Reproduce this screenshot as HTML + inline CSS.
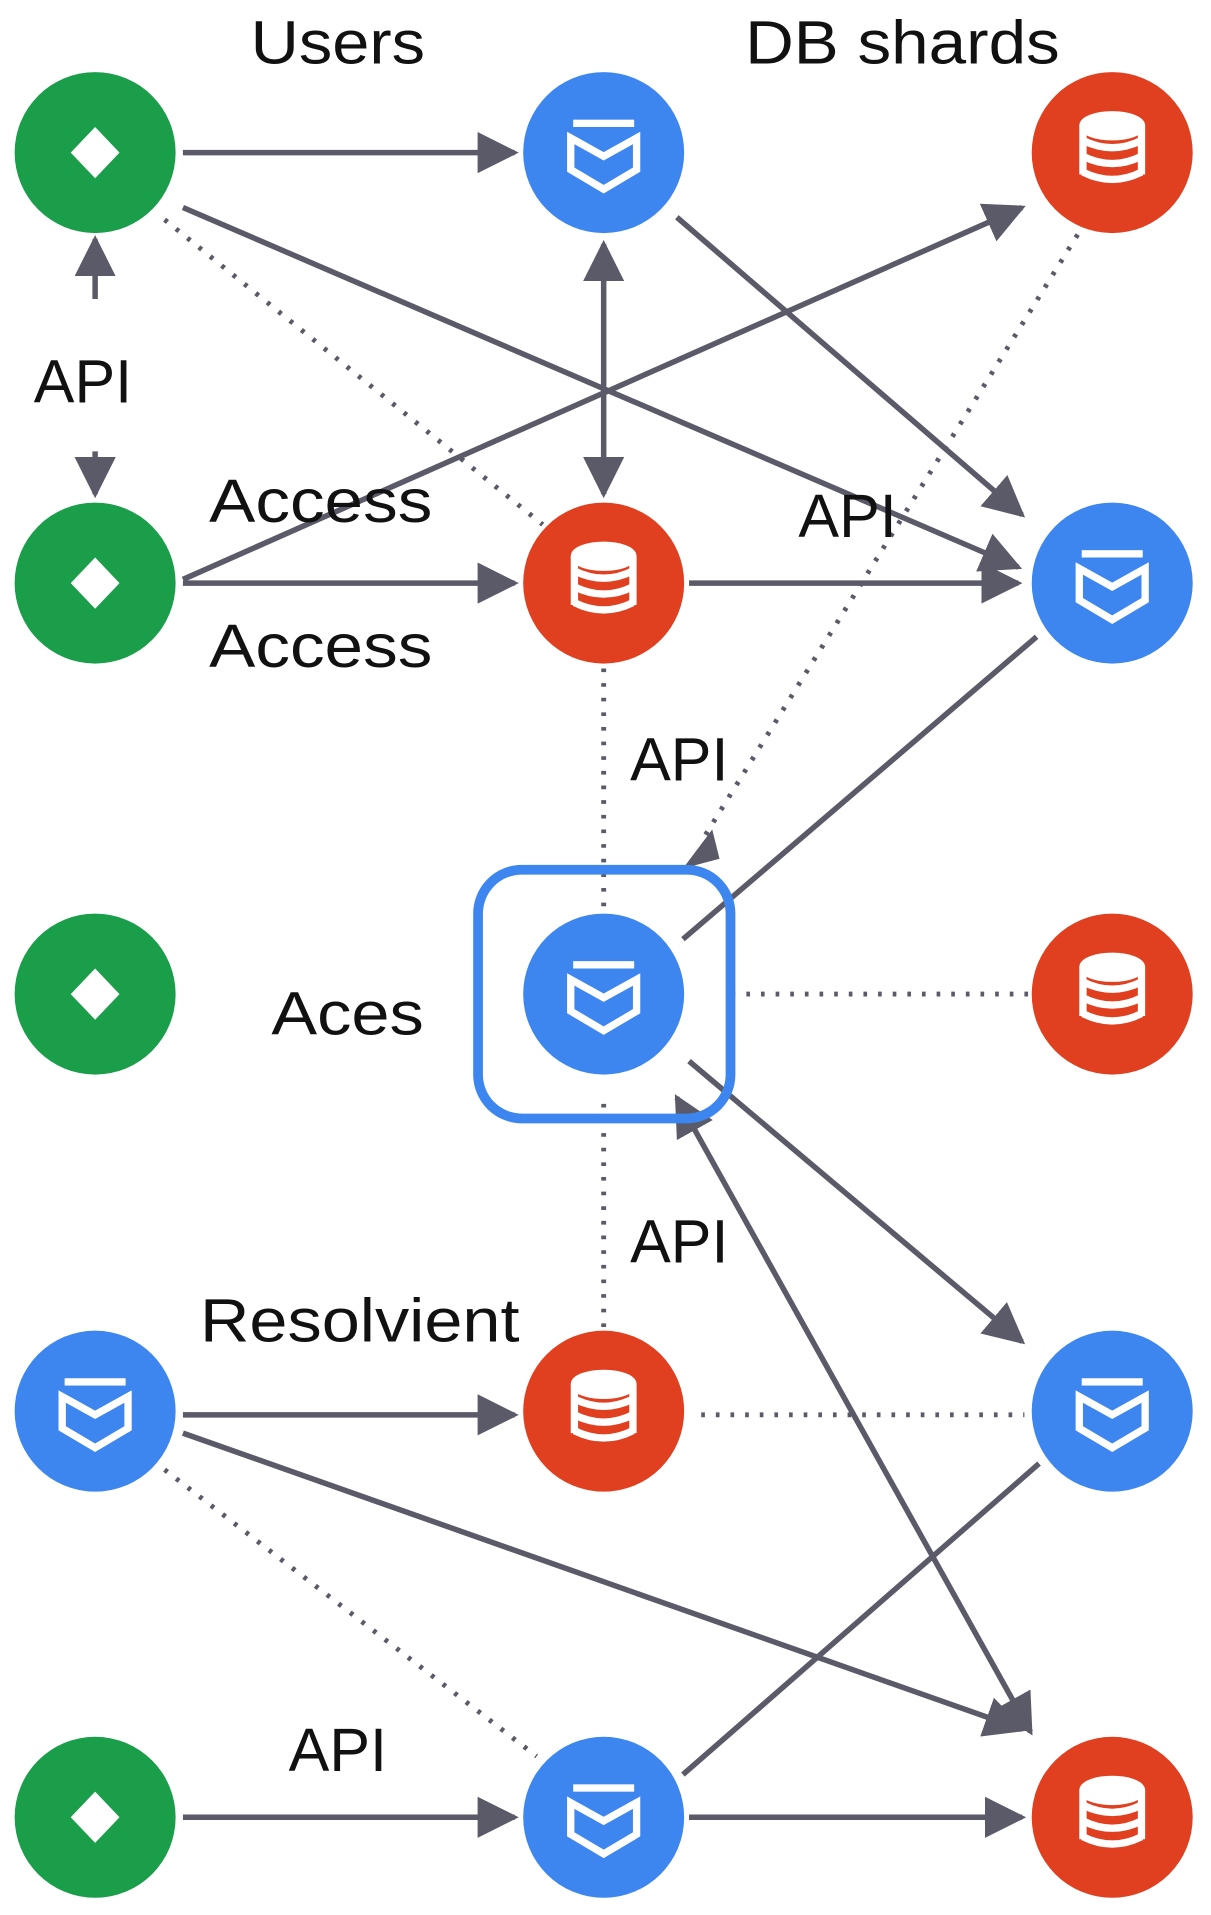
<!DOCTYPE html>
<html><head><meta charset="utf-8"><style>
html,body{margin:0;padding:0;background:#fff;}
svg{display:block;}
text{font-family:"Liberation Sans",sans-serif;fill:#111;}
</style></head><body>
<svg width="1211" height="1915" viewBox="0 0 993 1570" xmlns="http://www.w3.org/2000/svg">
<defs>
<marker id="a" viewBox="0 0 10 10" refX="9" refY="5" markerWidth="7.5" markerHeight="7.5" markerUnits="strokeWidth" orient="auto-start-reverse">
<path d="M0,0 L10,5 L0,10 Z" fill="#5a5a68"/></marker>
<g id="G"><circle r="66" fill="#1a9e4a"/><path d="M0,-21 L20,0 L0,21 L-20,0Z" fill="#fff"/></g>
<g id="B"><circle r="66" fill="#3d86f0"/>
<rect x="-25" y="-27" width="50" height="6" fill="#fff"/>
<path d="M-27,-12 L0,3 L27,-12 L27,14 L0,30 L-27,14Z" fill="none" stroke="#fff" stroke-width="6" stroke-linejoin="miter"/></g>
<g id="R"><circle r="66" fill="#e0401f"/>
<g fill="none" stroke="#fff" stroke-width="6">
<ellipse cx="0" cy="-22" rx="24" ry="9" fill="#fff"/>
<path d="M-24,-10 Q0,2 24,-10"/><path d="M-24,3 Q0,15 24,3"/><path d="M-24,16 Q0,28 24,16"/>
<path d="M-24,-22 V18 M24,-22 V18"/></g></g>
</defs>
<g stroke="#5a5a68" stroke-width="4.5" fill="none">
<line x1="150" y1="125" x2="422" y2="125" marker-end="url(#a)"/>
<line x1="150" y1="170" x2="835" y2="465" marker-end="url(#a)"/>
<line x1="78" y1="245" x2="78" y2="196" marker-end="url(#a)"/>
<line x1="78" y1="370" x2="78" y2="405" marker-end="url(#a)"/>
<line x1="495" y1="200" x2="495" y2="405" marker-start="url(#a)" marker-end="url(#a)"/>
<line x1="555" y1="178" x2="838" y2="422" marker-end="url(#a)"/>
<line x1="150" y1="475" x2="838" y2="170" marker-end="url(#a)"/>
<line x1="150" y1="478" x2="422" y2="478" marker-end="url(#a)"/>
<line x1="565" y1="478" x2="835" y2="478" marker-end="url(#a)"/>
<line x1="850" y1="522" x2="560" y2="770"/>
<line x1="565" y1="870" x2="838" y2="1100" marker-end="url(#a)"/>
<line x1="555" y1="900" x2="845" y2="1420" marker-start="url(#a)" marker-end="url(#a)"/>
<line x1="150" y1="1160" x2="422" y2="1160" marker-end="url(#a)"/>
<line x1="150" y1="1175" x2="838" y2="1418" marker-end="url(#a)"/>
<line x1="150" y1="1490" x2="422" y2="1490" marker-end="url(#a)"/>
<line x1="560" y1="1455" x2="852" y2="1200"/>
<line x1="565" y1="1490" x2="838" y2="1490" marker-end="url(#a)"/>
</g>
<g stroke="#5a5a68" stroke-width="4" fill="none" stroke-dasharray="3 9">
<line x1="135" y1="180" x2="445" y2="430"/>
<line x1="890" y1="182" x2="575" y2="690"/>
<line x1="495" y1="548" x2="495" y2="752"/>
<line x1="600" y1="815" x2="845" y2="815"/>
<line x1="495" y1="905" x2="495" y2="1090"/>
<line x1="575" y1="1160" x2="840" y2="1160"/>
<line x1="135" y1="1205" x2="440" y2="1440"/>
</g>
<path d="M560,712 L584,680 L590,704 Z" fill="#5a5a68"/>
<rect x="392" y="713" width="207" height="204" rx="36" fill="none" stroke="#3d86f0" stroke-width="8"/>
<use href="#G" x="78" y="125"/><use href="#B" x="495" y="125"/><use href="#R" x="912" y="125"/>
<use href="#G" x="78" y="478"/><use href="#R" x="495" y="478"/><use href="#B" x="912" y="478"/>
<use href="#G" x="78" y="815"/><use href="#B" x="495" y="815"/><use href="#R" x="912" y="815"/>
<use href="#B" x="78" y="1157"/><use href="#R" x="495" y="1157"/><use href="#B" x="912" y="1157"/>
<use href="#G" x="78" y="1490"/><use href="#B" x="495" y="1490"/><use href="#R" x="912" y="1490"/>
<g font-size="50" text-anchor="middle">
<text x="277" y="52" textLength="143" lengthAdjust="spacingAndGlyphs">Users</text>
<text x="740" y="52" textLength="258" lengthAdjust="spacingAndGlyphs">DB shards</text>
<text x="68" y="330">API</text>
<text x="263" y="428" textLength="183" lengthAdjust="spacingAndGlyphs">Access</text>
<text x="263" y="547" textLength="183" lengthAdjust="spacingAndGlyphs">Access</text>
<text x="695" y="440">API</text>
<text x="557" y="640">API</text>
<text x="285" y="848" textLength="125" lengthAdjust="spacingAndGlyphs">Aces</text>
<text x="295" y="1100" textLength="262" lengthAdjust="spacingAndGlyphs">Resolvient</text>
<text x="557" y="1035">API</text>
<text x="277" y="1452">API</text>
</g>
</svg>
</body></html>
